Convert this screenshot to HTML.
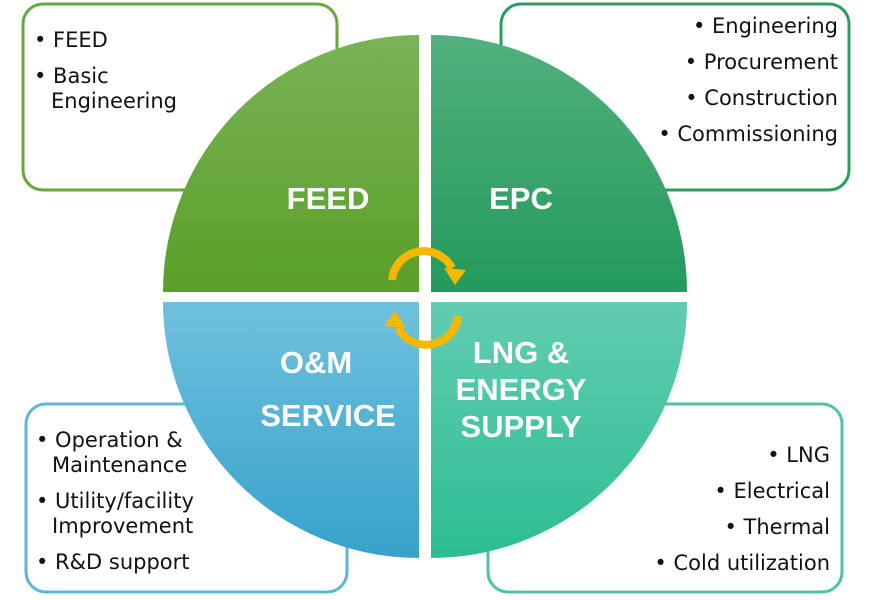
<!DOCTYPE html>
<html><head><meta charset="utf-8"><style>
html,body{margin:0;padding:0;background:#fff;width:870px;height:600px;overflow:hidden}
.b{font-family:"DejaVu Sans","Liberation Sans",sans-serif}
.l{font-family:"Liberation Sans",sans-serif;font-weight:bold}
</style></head><body>
<svg width="870" height="600" viewBox="0 0 870 600" xmlns="http://www.w3.org/2000/svg">
<defs>
<linearGradient id="g1" x1="0" y1="0" x2="0" y2="1"><stop offset="0" stop-color="#7ab356"/><stop offset="1" stop-color="#5a9f28"/></linearGradient>
<linearGradient id="g2" x1="0" y1="0" x2="0" y2="1"><stop offset="0" stop-color="#52b07e"/><stop offset="1" stop-color="#239a5c"/></linearGradient>
<linearGradient id="g3" x1="0" y1="0" x2="0" y2="1"><stop offset="0" stop-color="#6fc1de"/><stop offset="1" stop-color="#37a2cb"/></linearGradient>
<linearGradient id="g4" x1="0" y1="0" x2="0" y2="1"><stop offset="0" stop-color="#62ccb2"/><stop offset="1" stop-color="#2dbd92"/></linearGradient>
</defs>
<rect x="23" y="4" width="314" height="186" rx="20" fill="#fff" stroke="#68a83a" stroke-width="3"/>
<rect x="501" y="4" width="348" height="186" rx="20" fill="#fff" stroke="#2d9c60" stroke-width="3"/>
<rect x="26" y="404" width="321" height="188" rx="20" fill="#fff" stroke="#5ab7d7" stroke-width="3"/>
<rect x="488" y="404" width="354" height="188" rx="20" fill="#fff" stroke="#4fc3a5" stroke-width="3"/>
<path d="M419 292 L163 292 A256 257 0 0 1 419 35 Z" fill="url(#g1)"/>
<path d="M431 292 L431 35 A256 257 0 0 1 687 292 Z" fill="url(#g2)"/>
<path d="M419 302 L419 558 A256 256 0 0 1 163 302 Z" fill="url(#g3)"/>
<path d="M431 302 L687 302 A256 256 0 0 1 431 558 Z" fill="url(#g4)"/>
<g class="b" font-size="21" fill="#111">
<text x="34" y="47">• FEED</text>
<text x="34" y="83">• Basic</text>
<text x="51" y="108">Engineering</text>
<text x="838" y="33" text-anchor="end">• Engineering</text>
<text x="838" y="69" text-anchor="end">• Procurement</text>
<text x="838" y="105" text-anchor="end">• Construction</text>
<text x="838" y="141" text-anchor="end">• Commissioning</text>
<text x="36" y="447">• Operation &amp;</text>
<text x="52" y="472">Maintenance</text>
<text x="36" y="508">• Utility/facility</text>
<text x="52" y="533">Improvement</text>
<text x="36" y="569">• R&amp;D support</text>
<text x="830" y="462" text-anchor="end">• LNG</text>
<text x="830" y="498" text-anchor="end">• Electrical</text>
<text x="830" y="534" text-anchor="end">• Thermal</text>
<text x="830" y="570" text-anchor="end">• Cold utilization</text>
</g>
<g class="l" font-size="31" fill="#fff" text-anchor="middle">
<text x="328" y="209">FEED</text>
<text x="521" y="209">EPC</text>
<text x="316" y="373">O&amp;M</text>
<text x="328" y="426">SERVICE</text>
<text x="521" y="363">LNG &amp;</text>
<text x="521" y="400">ENERGY</text>
<text x="521" y="437">SUPPLY</text>
</g>
<g fill="none" stroke="#f5b800" stroke-width="8">
<path d="M392 280 A32 32 0 0 1 452 268"/>
<path d="M458 316 A32 32 0 0 1 398 328"/>
</g>
<polygon points="444,268 466,270 455,285" fill="#f5b800"/>
<polygon points="406,328 384,326 395,311" fill="#f5b800"/>
</svg>
</body></html>
